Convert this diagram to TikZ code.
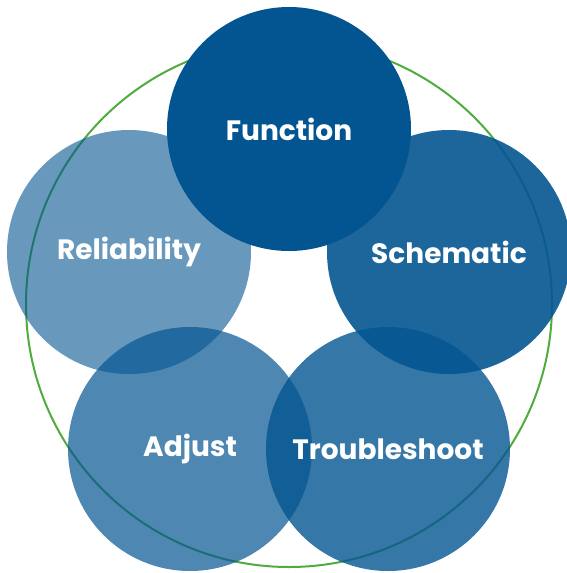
\documentclass[tikz,border=0pt]{standalone}
\usepackage{fontspec}
\setmainfont{Poppins}
\definecolor{petal}{RGB}{3,85,145}
\definecolor{ring}{RGB}{80,172,62}
\begin{document}
\begin{tikzpicture}[x=1pt,y=-1pt,
    petal/.style={circle,minimum size=244pt,inner sep=0pt,fill=petal,
      text=white,text opacity=1,font=\fontsize{28}{30}\selectfont\bfseries},
    ring/.style={circle,draw=ring,line width=2pt,minimum size=526pt,inner sep=0pt}]
   \useasboundingbox (0,0) rectangle (567,573);
   \node[ring] (R) at (289,304) {};
   \node[petal,fill opacity=0.6] (rel) at (129,252) {Reliability};
   \node[petal,fill opacity=0.7] (adj) at (190,449) {Adjust};
   \node[petal,fill opacity=0.8] (tro) at (388,449) {Troubleshoot};
   \node[petal,fill opacity=0.9] (sch) at (449,252) {Schematic};
   \node[petal] (fun) at (289,129) {Function};
\end{tikzpicture}
\end{document}
